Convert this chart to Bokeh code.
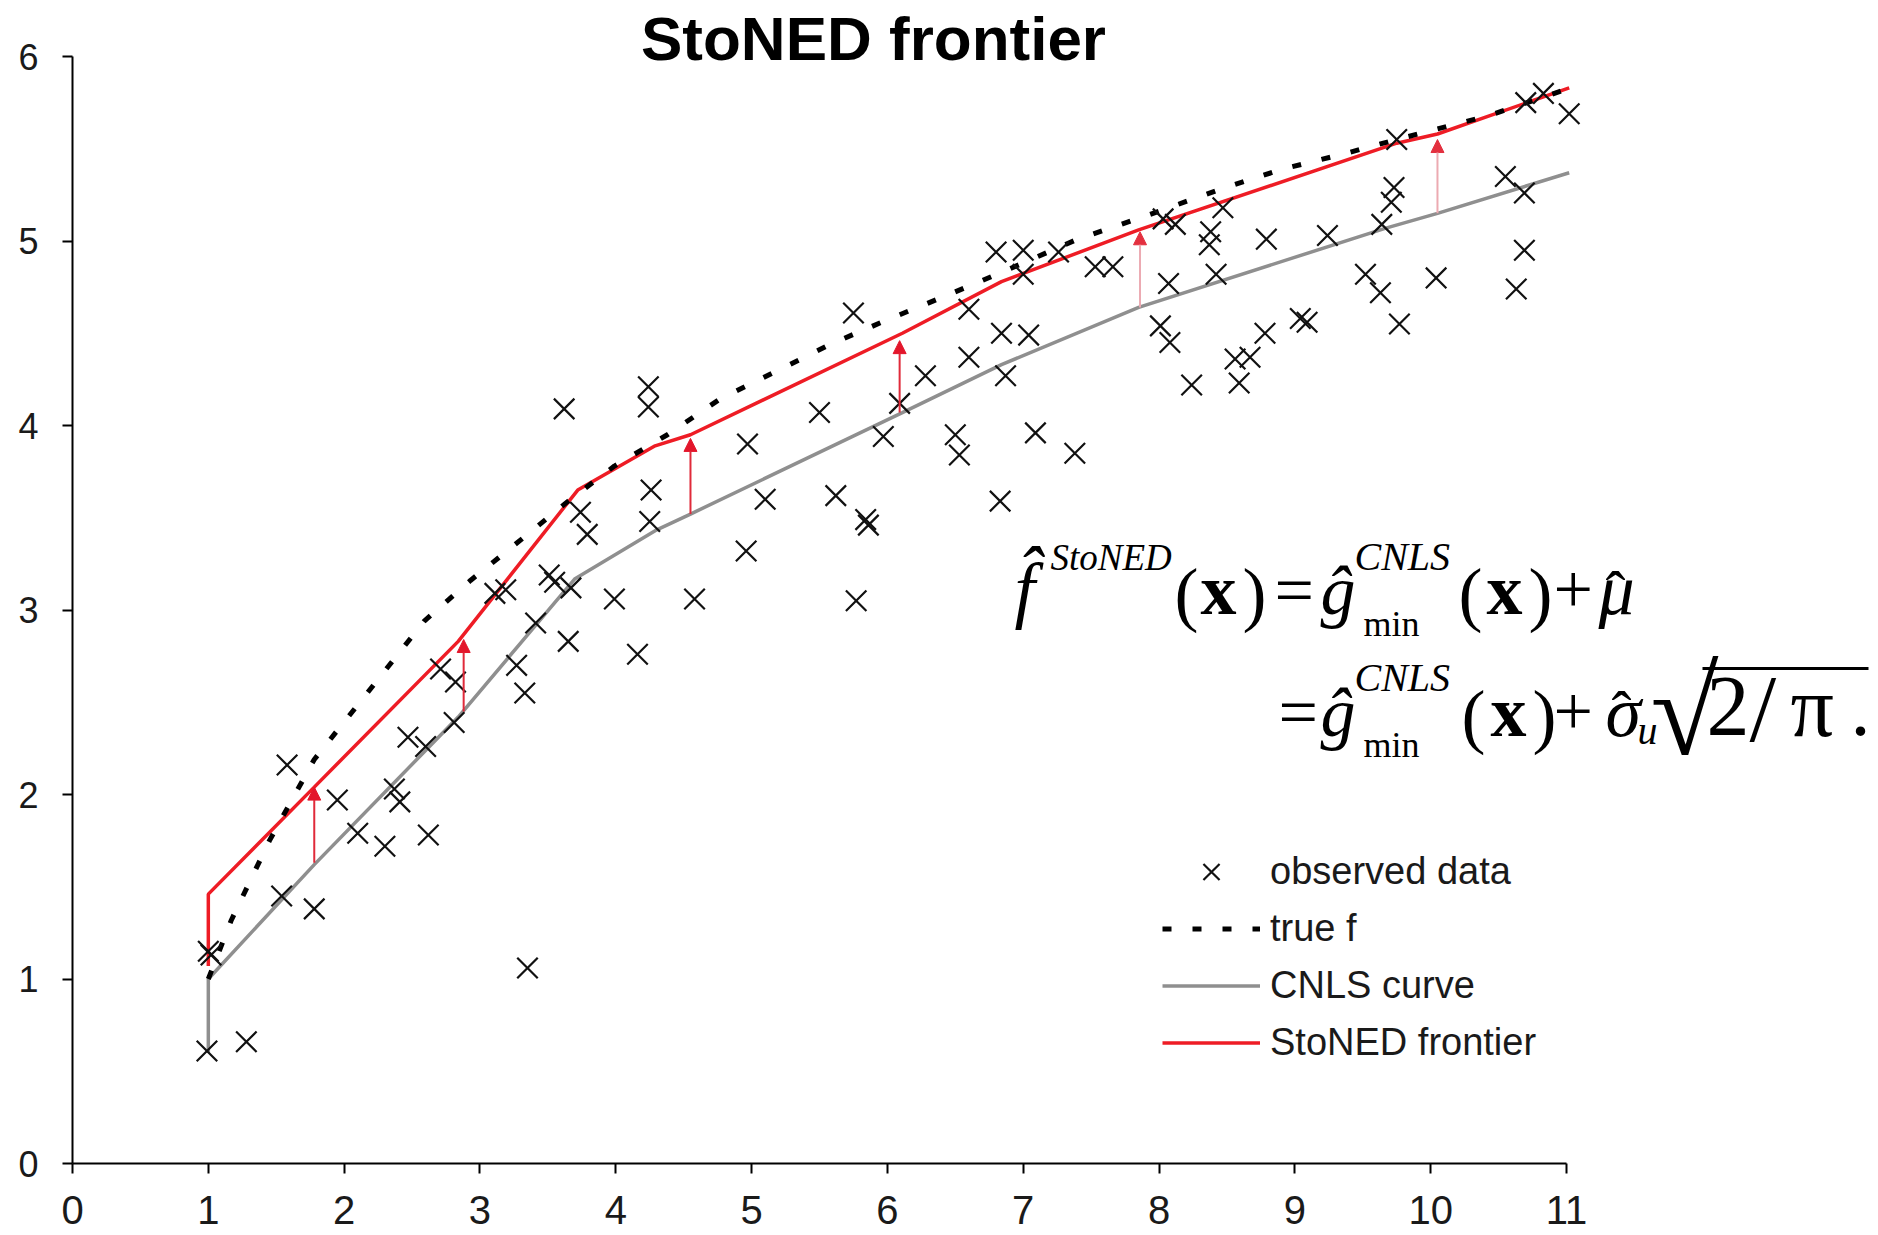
from bokeh.plotting import figure
from bokeh.models import (Range1d, FixedTicker, Label, Arrow, NormalHead, Legend,
                          LegendItem, ColumnDataSource)
from bokeh.embed import file_html
from bokeh.resources import INLINE

# ---------------- data ----------------
obs_x = [0.99, 1.28, 1.00, 1.02, 1.54, 1.78, 1.58, 1.95, 2.10, 2.30, 2.62, 2.37, 2.41,
         2.47, 2.60, 2.71, 2.82, 2.81, 3.11, 3.19, 3.27, 3.33, 3.41, 3.35, 3.51, 3.55,
         3.65, 3.67, 3.62, 3.74, 3.79, 3.99, 4.16, 4.24, 4.24, 4.26, 4.25, 4.58, 4.97,
         4.96, 5.10, 5.50, 5.62, 5.75, 5.77, 5.84, 5.86, 5.97, 6.09, 6.28, 6.50, 6.53,
         6.60, 6.60, 6.83, 6.84, 6.87, 6.80, 7.00, 7.00, 7.04, 7.09, 7.26, 7.38, 7.53,
         7.66, 8.03, 8.12, 8.07, 8.01, 8.08, 8.24, 8.38, 8.37, 8.42, 8.47, 8.56, 8.59,
         8.67, 8.78, 8.79, 9.04, 9.09, 9.24, 9.52, 9.63, 9.64, 9.71, 9.73, 9.75, 9.77,
         10.04, 10.55, 10.63, 10.69, 10.69, 10.70, 10.83, 11.02]
obs_y = [0.61, 0.66, 1.15, 1.13, 1.45, 1.38, 2.16, 1.97, 1.79, 1.72, 1.78, 2.03, 1.96,
         2.31, 2.26, 2.68, 2.61, 2.39, 3.09, 3.11, 2.70, 2.55, 2.93, 1.06, 3.19, 3.15,
         2.83, 3.12, 4.09, 3.53, 3.41, 3.06, 2.76, 4.21, 4.10, 3.65, 3.48, 3.06, 3.90,
         3.32, 3.60, 4.07, 3.62, 4.61, 3.05, 3.49, 3.46, 3.94, 4.12, 4.27, 3.95, 3.84,
         4.63, 4.37, 3.59, 4.50, 4.27, 4.94, 4.95, 4.82, 4.49, 3.96, 4.94, 3.85, 4.86,
         4.86, 5.12, 5.09, 4.77, 4.54, 4.45, 4.22, 5.05, 4.98, 4.82, 5.18, 4.36, 4.23,
         4.37, 4.50, 5.01, 4.58, 4.56, 5.03, 4.82, 4.72, 5.09, 5.21, 5.29, 5.55, 4.55,
         4.80, 5.35, 4.74, 5.26, 4.95, 5.75, 5.80, 5.69]

true_x = [1.00, 1.17, 1.45, 1.78, 2.17, 2.59, 2.93, 3.25, 3.65, 3.99, 4.38, 4.76, 5.17,
          5.58, 5.99, 6.42, 6.84, 7.40, 7.88, 8.45, 8.91, 9.35, 9.75, 10.43, 11.03]
true_y = [1.00, 1.32, 1.75, 2.19, 2.55, 2.94, 3.16, 3.35, 3.59, 3.78, 3.95, 4.14, 4.29,
          4.44, 4.57, 4.70, 4.83, 5.01, 5.13, 5.28, 5.39, 5.47, 5.55, 5.68, 5.83]

cnls_x = [1.00, 1.00, 1.78, 2.84, 3.70, 4.29, 4.55, 6.11, 6.84, 7.85, 9.67, 10.05, 11.02]
cnls_y = [0.60, 1.00, 1.62, 2.42, 3.17, 3.43, 3.52, 4.07, 4.33, 4.64, 5.07, 5.15, 5.37]

front_x = [1.00, 1.00, 1.78, 2.84, 3.72, 4.29, 4.55, 6.11, 6.84, 7.85, 9.75, 10.05, 11.02]
front_y = [1.07, 1.46, 2.04, 2.83, 3.65, 3.89, 3.95, 4.50, 4.78, 5.06, 5.53, 5.58, 5.83]

arrow_x = [1.78, 2.88, 4.55, 6.09, 7.86, 10.05]
arrow_base = [1.63, 2.45, 3.52, 4.07, 4.64, 5.15]
arrow_tip = [2.04, 2.84, 3.93, 4.46, 5.05, 5.55]

x_ticks = [0, 1, 2, 3, 4, 5, 6, 7, 8, 9, 10, 11]
y_ticks = [0, 1, 2, 3, 4, 5, 6]

# ---------------- geometry ----------------
W, H = 1878, 1235
LEFT, BOTTOM = 72, 72
XS = (1566 - LEFT) / 11.0          # px per x unit
YS = 184.5                          # px per y unit
FRAME_BOTTOM = H - BOTTOM
x_end = (W - LEFT) / XS
y_end = FRAME_BOTTOM / YS
K_BASE = 0.36                       # correction for where text baselines land


def px_x(px):
    return (px - LEFT) / XS


def px_y(py):
    return (FRAME_BOTTOM - py) / YS


p = figure(width=W, height=H, x_range=Range1d(0, x_end), y_range=Range1d(0, y_end),
           output_backend="svg", toolbar_location=None, title=None,
           min_border_left=LEFT, min_border_right=0, min_border_top=0,
           min_border_bottom=BOTTOM)
p.outline_line_color = None
p.xgrid.grid_line_color = None
p.ygrid.grid_line_color = None
p.background_fill_color = "white"
p.border_fill_color = "white"

for ax, ticks, fs, so in ((p.xaxis[0], x_ticks, "40px", 22), (p.yaxis[0], y_ticks, "36px", 24)):
    ax.ticker = FixedTicker(ticks=ticks)
    ax.bounds = (ticks[0], ticks[-1])
    ax.axis_line_width = 2
    ax.axis_line_color = "black"
    ax.major_tick_line_width = 2
    ax.major_tick_line_color = "black"
    ax.major_tick_out = 10
    ax.major_tick_in = 0
    ax.minor_tick_line_color = None
    ax.major_label_text_font = "Liberation Sans"
    ax.major_label_text_font_size = fs
    ax.major_label_text_color = "#1a1a1a"
    ax.major_label_standoff = so
p.xaxis[0].major_label_text_line_height = 0.8

# ---------------- arrows ----------------
strong = ColumnDataSource(dict(x=arrow_x[:4], y0=arrow_base[:4], y1=arrow_tip[:4]))
light = ColumnDataSource(dict(x=arrow_x[4:], y0=arrow_base[4:], y1=arrow_tip[4:]))
p.add_layout(Arrow(end=NormalHead(size=13, fill_color="#e3162b", line_color="#e3162b"),
                   x_start="x", y_start="y0", x_end="x", y_end="y1", source=strong,
                   line_color="#e02a3a", line_width=2))
p.add_layout(Arrow(end=NormalHead(size=13, fill_color="#e3303f", line_color="#e3303f"),
                   x_start="x", y_start="y0", x_end="x", y_end="y1", source=light,
                   line_color="#ecaab2", line_width=2))

# ---------------- lines and points ----------------
r_cnls = p.line(cnls_x, cnls_y, line_color="#8f8f8f", line_width=3.5)
r_front = p.line(front_x, front_y, line_color="#ee1c25", line_width=3.5)
r_true = p.line(true_x, true_y, line_color="black", line_width=5, line_dash="9 21")
r_obs = p.scatter(obs_x, obs_y, marker="x", size=29, line_width=2.2, line_color="#111111")

legend = Legend(items=[
    LegendItem(label="observed data", renderers=[r_obs]),
    LegendItem(label="true f", renderers=[r_true]),
    LegendItem(label="CNLS curve", renderers=[r_cnls]),
    LegendItem(label="StoNED frontier", renderers=[r_front]),
], location=(1090, 92))
legend.glyph_width = 98
legend.glyph_height = 57
legend.label_height = 57
legend.label_standoff = 10
legend.spacing = 0
legend.padding = 0
legend.margin = 0
legend.border_line_alpha = 0
legend.background_fill_alpha = 0
legend.label_text_font = "Liberation Sans"
legend.label_text_font_size = "38px"
legend.label_text_color = "#1a1a1a"
p.add_layout(legend)


def add_text(text, left_px, base_px, size, style="normal", font="Liberation Serif",
             align="left"):
    p.add_layout(Label(x=px_x(left_px), y=px_y(base_px - K_BASE * size), text=text,
                       text_align=align, text_baseline="alphabetic", text_font=font,
                       text_font_style=style, text_font_size=f"{size}px",
                       text_color="black"))


# ---------------- title ----------------
add_text("StoNED frontier", 873, 60, 62, "bold", "Liberation Sans", "center")

# ---------------- formula ----------------
formula_pieces = [
    # text, left px, baseline px, size px, style
    ("f\u0302", 1014, 615, 74, "italic"),
    ("StoNED", 1050, 570, 37, "italic"),
    ("(", 1174, 619, 72, "normal"),
    ("x", 1200, 615, 72, "bold"),
    (")", 1242, 619, 72, "normal"),
    ("=", 1274, 615, 70, "normal"),
    ("\u011d", 1320, 615, 70, "italic"),
    ("CNLS", 1354, 570, 40, "italic"),
    ("min", 1363, 636, 36, "normal"),
    ("(", 1458, 619, 72, "normal"),
    ("x", 1486, 615, 72, "bold"),
    (")", 1528, 619, 72, "normal"),
    ("+", 1553, 615, 70, "normal"),
    ("\u03bc", 1598, 615, 72, "italic"),
    ("\u02c6", 1605, 613, 60, "normal"),
    ("=", 1278, 737, 70, "normal"),
    ("\u011d", 1320, 737, 70, "italic"),
    ("CNLS", 1354, 691, 40, "italic"),
    ("min", 1363, 757, 36, "normal"),
    ("(", 1461, 741, 72, "normal"),
    ("x", 1490, 737, 72, "bold"),
    (")", 1532, 741, 72, "normal"),
    ("+", 1553, 737, 70, "normal"),
    ("\u03c3", 1605, 737, 72, "italic"),
    ("\u02c6", 1611, 733, 60, "normal"),
    ("u", 1637, 744, 40, "italic"),
    ("\u221a", 1650, 757, 124, "normal"),
    ("2", 1706, 737, 86, "normal"),
    ("/", 1749, 743, 96, "normal"),
    ("\u03c0", 1790, 737, 86, "normal"),
    (".", 1850, 737, 80, "normal"),
]
for t, xp, yp, sz, st in formula_pieces:
    add_text(t, xp, yp, sz, st)
# vinculum of the square root
p.segment(x0=[px_x(1702)], y0=[px_y(668)], x1=[px_x(1868)], y1=[px_y(668)],
          line_color="black", line_width=3)

open("out.html", "w").write(file_html(p, INLINE))
